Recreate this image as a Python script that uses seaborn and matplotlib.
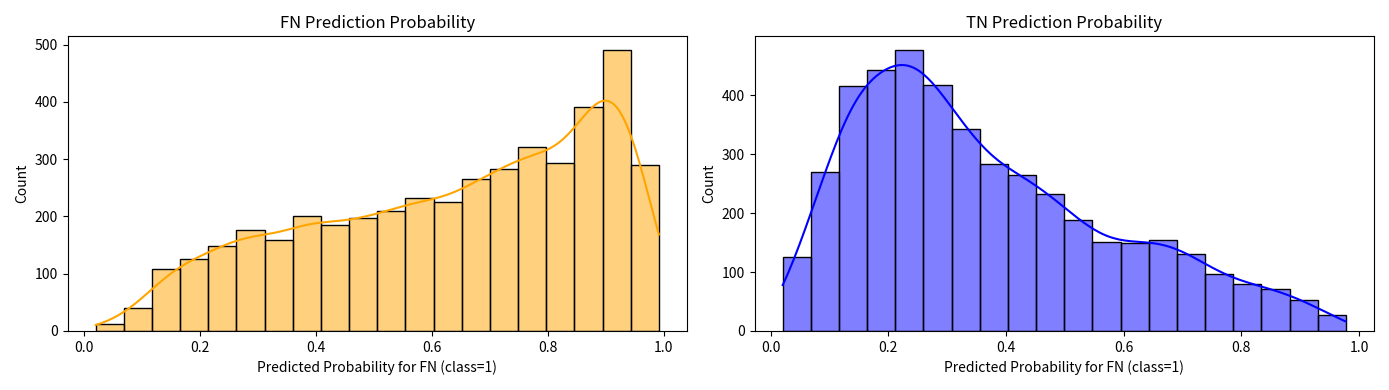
import numpy as np
import pandas as pd
import matplotlib
matplotlib.use("Agg")
import matplotlib.pyplot as plt
import seaborn as sns

# bin counts (20 bins each)
fn_counts = [13, 40, 108, 126, 148, 176, 158, 200, 185, 198,
             210, 232, 225, 266, 282, 322, 294, 391, 490, 290]
tn_counts = [126, 270, 415, 443, 476, 417, 342, 284, 265, 232,
             188, 151, 150, 154, 130, 97, 80, 71, 52, 27]

# observed probability range of each group
fn_range = (0.0206, 0.9916)
tn_range = (0.0203, 0.9775)

titles = ["FN Prediction Probability", "TN Prediction Probability"]
xlabel = "Predicted Probability for FN (class=1)"


def binned_frame(counts, prob_range):
    edges = np.linspace(prob_range[0], prob_range[1], len(counts) + 1)
    centers = (edges[:-1] + edges[1:]) / 2
    # include the range ends with zero weight so the kde spans the full range
    x = np.concatenate([[prob_range[0]], centers, [prob_range[1]]])
    w = np.concatenate([[0], counts, [0]])
    return pd.DataFrame({"prob": x, "w": w})


plt.rcParams["font.family"] = ["Noto Sans CJK KR", "DejaVu Sans"]

fig, axes = plt.subplots(1, 2, figsize=(13.89, 3.9), dpi=100)

for ax, counts, rng, color, title in zip(
        axes, [fn_counts, tn_counts], [fn_range, tn_range],
        ["orange", "blue"], titles):
    df = binned_frame(counts, rng)
    sns.histplot(data=df, x="prob", weights="w", bins=len(counts),
                 binrange=rng, kde=True, color=color, alpha=0.5,
                 edgecolor="black", ax=ax, kde_kws={"bw_adjust": 0.3})
    ax.set_title(title)
    ax.set_xlabel(xlabel)
    ax.set_ylabel("Count")

plt.tight_layout()
plt.savefig("out.png", dpi=100)
